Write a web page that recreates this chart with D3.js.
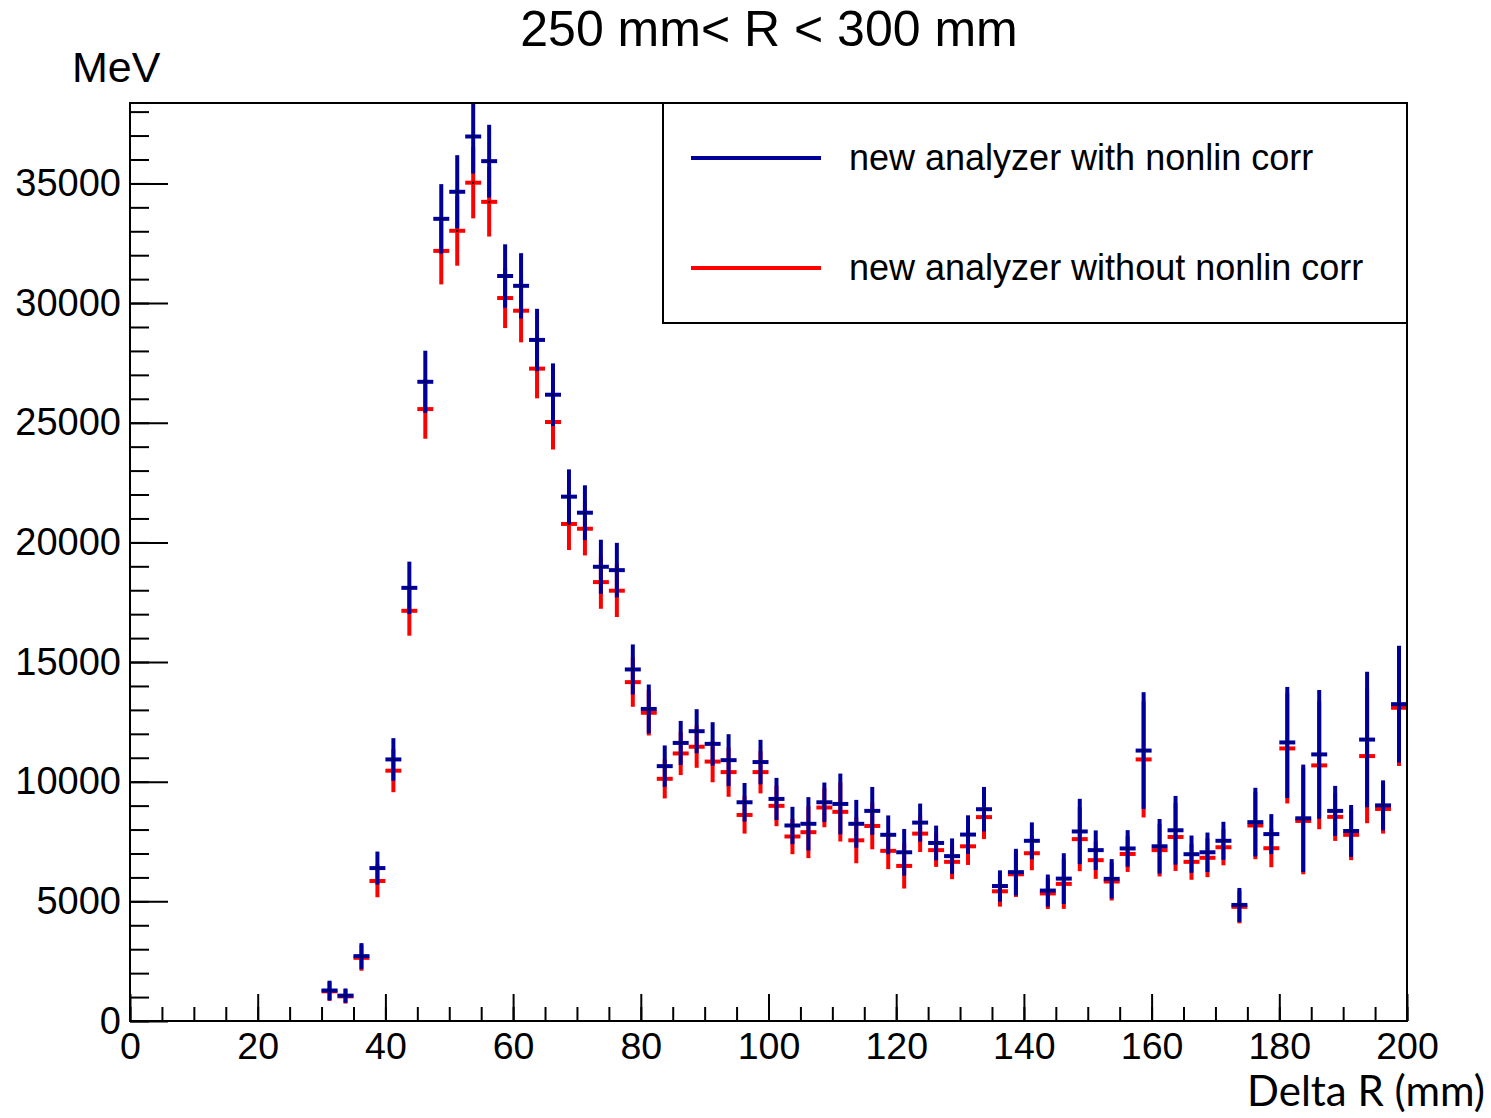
<!DOCTYPE html>
<html>
<head>
<meta charset="utf-8">
<script src="https://cdn.jsdelivr.net/npm/d3@7"></script>
<style>
  body { margin: 0; background: #fff; }
  svg { display: block; }
</style>
</head>
<body>
<svg id="chart" width="1491" height="1118"></svg>
<script>
// bin centres, bin width 2.5 mm
const binCenters = [31.25, 33.75, 36.25, 38.75, 41.25, 43.75, 46.25, 48.75, 51.25, 53.75,
    56.25, 58.75, 61.25, 63.75, 66.25, 68.75, 71.25, 73.75, 76.25, 78.75,
    81.25, 83.75, 86.25, 88.75, 91.25, 93.75, 96.25, 98.75, 101.25, 103.75,
    106.25, 108.75, 111.25, 113.75, 116.25, 118.75, 121.25, 123.75, 126.25, 128.75,
    131.25, 133.75, 136.25, 138.75, 141.25, 143.75, 146.25, 148.75, 151.25, 153.75,
    156.25, 158.75, 161.25, 163.75, 166.25, 168.75, 171.25, 173.75, 176.25, 178.75,
    181.25, 183.75, 186.25, 188.75, 191.25, 193.75, 196.25, 198.75];
const binWidth = 2.5;

// new analyzer with nonlin corr
const withCorr = [1275, 1060, 2710, 6390, 10930, 18100, 26710, 33520, 34650, 36960,
    35930, 31130, 30720, 28460, 26170, 21910, 21240, 18980, 18840, 14690,
    13040, 10650, 11620, 12110, 11580, 10900, 9140, 10820, 9280, 8170,
    8240, 9140, 9070, 8240, 8780, 7780, 7050, 8290, 7440, 6890,
    7790, 8850, 5640, 6220, 7530, 5450, 5950, 7920, 7140, 5940,
    7210, 11300, 7300, 7970, 6970, 7050, 7530, 4850, 8310, 7810,
    11640, 8470, 11140, 8780, 7940, 11760, 9010, 13240];
const withCorrErr = [410, 300, 545, 690, 890, 1095, 1300, 1450, 1530, 1550,
    1520, 1325, 1365, 1300, 1310, 1140, 1145, 1130, 1140, 1045,
    1020, 865, 920, 920, 905, 1085, 805, 930, 880, 780,
    1115, 825, 1270, 1000, 1000, 810, 975, 795, 725, 740,
    805, 930, 655, 975, 770, 670, 1060, 1365, 825, 825,
    765, 2440, 1140, 1435, 780, 825, 795, 710, 1435, 835,
    2320, 2245, 2690, 1045, 1085, 2830, 1045, 2440];

// new analyzer without nonlin corr
const withoutCorr = [1240, 1030, 2640, 5850, 10460, 17140, 25570, 32180, 33020, 35030,
    34230, 30210, 29680, 27260, 25030, 20770, 20570, 18340, 17980, 14160,
    12880, 10120, 11180, 11460, 10840, 10400, 8610, 10400, 8990, 7710,
    7890, 8920, 8740, 7550, 8150, 7110, 6480, 7830, 7140, 6650,
    7300, 8520, 5420, 6130, 7010, 5330, 5730, 7600, 6720, 5830,
    6980, 10930, 7140, 7690, 6650, 6820, 7260, 4770, 8170, 7220,
    11390, 8360, 10680, 8530, 7780, 11070, 8860, 13090];
const withoutCorrErr = [400, 300, 540, 680, 900, 1040, 1240, 1400, 1460, 1490,
    1450, 1255, 1320, 1240, 1150, 1090, 1115, 1115, 1100, 1030,
    950, 820, 905, 880, 865, 1030, 780, 890, 850, 740,
    1085, 825, 1240, 960, 975, 765, 945, 770, 700, 725,
    780, 920, 640, 950, 710, 650, 1045, 1340, 780, 795,
    750, 2425, 1100, 1420, 750, 810, 755, 690, 1410, 795,
    2300, 2230, 2665, 1005, 1060, 2810, 1030, 2435];

const seriesNames = ["new analyzer with nonlin corr", "new analyzer without nonlin corr"];
const seriesColors = ["#000099", "#ff0000"];
const xTicks = [0, 20, 40, 60, 80, 100, 120, 140, 160, 180, 200];
const yTicks = [0, 5000, 10000, 15000, 20000, 25000, 30000, 35000];

const svg = d3.select("#chart");
const frame = {left: 130, right: 1407, top: 103, bottom: 1021};

const x = d3.scaleLinear().domain([0, 200]).range([frame.left, frame.right]);
const y = d3.scaleLinear().domain([0, 38360]).range([frame.bottom, frame.top]);

const tickFont = "'Liberation Sans', Arial, Helvetica, sans-serif";

svg.append("defs").append("clipPath")
    .attr("id", "frame-clip")
    .append("rect")
    .attr("x", frame.left).attr("y", frame.top)
    .attr("width", frame.right - frame.left).attr("height", frame.bottom - frame.top);

// minor ticks first, ROOT style (ticks point inside)
svg.append("g")
    .attr("transform", `translate(0,${frame.bottom})`)
    .call(d3.axisBottom(x).tickValues(d3.range(0, 201, 5)).tickSize(-14).tickFormat(""))
    .call(g => g.select(".domain").remove())
    .call(g => g.selectAll("line").attr("stroke", "#000").attr("stroke-width", 2));

svg.append("g")
    .attr("transform", `translate(${frame.left},0)`)
    .call(d3.axisLeft(y).tickValues(d3.range(0, 38001, 1000)).tickSize(-19).tickFormat(""))
    .call(g => g.select(".domain").remove())
    .call(g => g.selectAll("line").attr("stroke", "#000").attr("stroke-width", 2));

// major ticks + labels
svg.append("g")
    .attr("transform", `translate(0,${frame.bottom})`)
    .call(d3.axisBottom(x).tickValues(xTicks).tickSize(-27).tickPadding(11).tickFormat(d3.format("d")))
    .call(g => g.select(".domain").remove())
    .call(g => g.selectAll("line").attr("stroke", "#000").attr("stroke-width", 2))
    .call(g => g.selectAll("text").attr("fill", "#000")
        .style("font-family", tickFont).style("font-size", "37.5px"));

svg.append("g")
    .attr("transform", `translate(${frame.left},0)`)
    .call(d3.axisLeft(y).tickValues(yTicks).tickSize(-38).tickPadding(9).tickFormat(d3.format("d")))
    .call(g => g.select(".domain").remove())
    .call(g => g.selectAll("line").attr("stroke", "#000").attr("stroke-width", 2))
    .call(g => g.selectAll("text").attr("fill", "#000")
        .style("font-family", tickFont).style("font-size", "38px"));

// error bars: red first, blue drawn on top
const series = [
    {values: withoutCorr, errors: withoutCorrErr, color: seriesColors[1]},
    {values: withCorr, errors: withCorrErr, color: seriesColors[0]}
];

const marks = svg.append("g").attr("clip-path", "url(#frame-clip)");

series.forEach(s => {
    const pts = binCenters.map((c, i) => ({c: c, v: s.values[i], e: s.errors[i]}));
    const g = marks.append("g");
    g.selectAll("line.err")
        .data(pts)
        .join("line")
        .attr("class", "err")
        .attr("x1", d => x(d.c)).attr("x2", d => x(d.c))
        .attr("y1", d => y(d.v - d.e)).attr("y2", d => y(d.v + d.e))
        .attr("stroke", s.color)
        .attr("stroke-width", 4);
    g.selectAll("line.bin")
        .data(pts)
        .join("line")
        .attr("class", "bin")
        .attr("x1", d => x(d.c - binWidth / 2)).attr("x2", d => x(d.c + binWidth / 2))
        .attr("y1", d => y(d.v)).attr("y2", d => y(d.v))
        .attr("stroke", s.color)
        .attr("stroke-width", 4);
    g.selectAll("rect.dot")
        .data(pts)
        .join("rect")
        .attr("class", "dot")
        .attr("x", d => x(d.c) - 1).attr("y", d => y(d.v) - 1)
        .attr("width", 2).attr("height", 2)
        .attr("fill", "#000");
});

// frame
svg.append("rect")
    .attr("x", frame.left).attr("y", frame.top)
    .attr("width", frame.right - frame.left).attr("height", frame.bottom - frame.top)
    .attr("fill", "none")
    .attr("stroke", "#000")
    .attr("stroke-width", 2);

// legend box
const legend = svg.append("g");
legend.append("rect")
    .attr("x", 663).attr("y", 103)
    .attr("width", 1407 - 663).attr("height", 323 - 103)
    .attr("fill", "#fff")
    .attr("stroke", "#000")
    .attr("stroke-width", 2);

const legendY = d3.scalePoint().domain(seriesNames).range([158, 268]);
seriesNames.forEach((name, i) => {
    legend.append("line")
        .attr("x1", 691).attr("x2", 821)
        .attr("y1", legendY(name)).attr("y2", legendY(name))
        .attr("stroke", seriesColors[i])
        .attr("stroke-width", 4);
    legend.append("text")
        .attr("x", 849).attr("y", legendY(name) + 12)
        .style("font-family", tickFont).style("font-size", "36px")
        .text(name);
});

// titles
svg.append("text")
    .attr("x", 769).attr("y", 46)
    .attr("text-anchor", "middle")
    .style("font-family", tickFont).style("font-size", "50px")
    .text("250 mm< R < 300 mm");

svg.append("text")
    .attr("x", 72).attr("y", 82)
    .style("font-family", tickFont).style("font-size", "43px")
    .text("MeV");

svg.append("text")
    .attr("x", 1485).attr("y", 1106)
    .attr("text-anchor", "end")
    .style("font-family", "Lato, 'Open Sans', sans-serif").style("font-size", "42px")
    .text("Delta R (mm)");
</script>
</body>
</html>
